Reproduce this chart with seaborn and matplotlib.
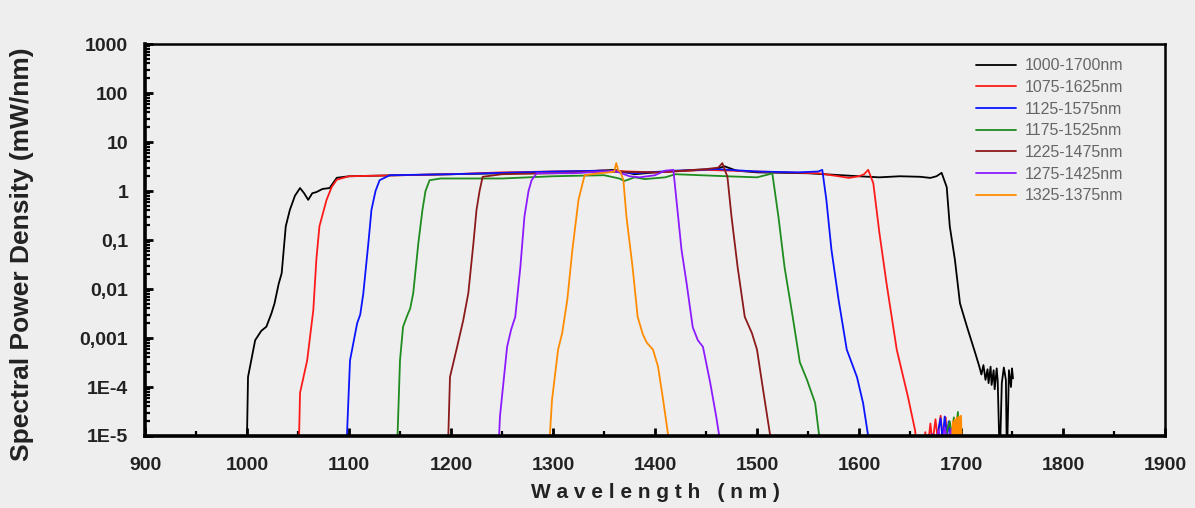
import pandas as pd
import seaborn as sns
import matplotlib.pyplot as plt
from matplotlib.ticker import MultipleLocator, LogLocator, NullFormatter

# spectra (wavelength nm, spectral power density mW/nm)
wl_1000_1700 = [995, 1000, 1001, 1008, 1014, 1019, 1024, 1027, 1031, 1034, 1038, 1042, 1047, 1052, 1056, 1060,
                1064, 1068, 1074, 1081, 1088, 1100, 1150, 1200, 1250, 1300, 1330, 1360, 1380, 1400, 1430, 1460,
                1468, 1480, 1500, 1550, 1600, 1620, 1640, 1660, 1670, 1676, 1681, 1686, 1689, 1694, 1699, 1706,
                1714, 1718, 1720, 1722, 1724, 1726, 1727, 1729, 1730, 1732, 1733, 1735, 1736, 1738, 1740, 1742,
                1744, 1745, 1747, 1749, 1750, 1751]
pd_1000_1700 = [1e-6, 1e-5, 1.6e-4, 9e-4, 1.4e-3, 1.7e-3, 3.2e-3, 5.1e-3, 0.0126, 0.021, 0.19, 0.41, 0.8, 1.15, 0.9, 0.66,
                0.9, 0.95, 1.1, 1.15, 1.86, 2.0, 2.1, 2.2, 2.3, 2.4, 2.5, 2.7, 2.2, 2.4, 2.6, 2.8,
                3.2, 2.6, 2.4, 2.3, 2.0, 1.9, 2.0, 1.95, 1.85, 2.0, 2.35, 1.2, 0.19, 0.04, 5.1e-3, 1.66e-3,
                4.9e-4, 2.6e-4, 1.8e-4, 2.8e-4, 1.4e-4, 2.3e-4, 1.2e-4, 2.6e-4, 1.1e-4, 2.2e-4, 9e-5, 2.4e-4,
                1.3e-4, 3e-6, 1.2e-4, 2.5e-4,
                1.4e-4, 3e-6, 2.2e-4, 1e-4, 2.4e-4, 1.5e-4]

wl_1075_1625 = [1050, 1052, 1059, 1065, 1068, 1071, 1078, 1083, 1088, 1100, 1150, 1200, 1250, 1300, 1350, 1400, 1450,
                1500, 1560, 1580, 1590, 1600, 1605, 1609, 1614, 1620, 1627, 1637, 1648, 1655, 1658,
                1662, 1665, 1667, 1670, 1672, 1675, 1677, 1680, 1682, 1685, 1687]
pd_1075_1625 = [1e-6, 7.6e-5, 3.5e-4, 3.7e-3, 0.04, 0.19, 0.66, 1.2, 1.7, 2.0, 2.1, 2.2, 2.4, 2.5, 2.6, 2.4, 2.7,
                2.5, 2.3, 2.0, 1.85, 2.0, 2.2, 2.7, 1.45, 0.14, 0.013, 5.8e-4, 6.3e-5, 1.3e-5, 3e-6,
                3e-6, 1.2e-5, 5e-6, 1.8e-5, 7e-6, 2.2e-5, 9e-6, 2.6e-5, 1e-5, 2.4e-5, 4e-6]

wl_1125_1575 = [1096, 1101, 1108, 1111, 1114, 1119, 1122, 1126, 1130, 1140, 1200, 1300, 1350, 1380, 1420, 1460,
                1500, 1540, 1560, 1564, 1568, 1573, 1580, 1588, 1598, 1604, 1609, 1611,
                1676, 1678, 1680, 1682, 1684, 1686, 1688, 1690]
pd_1125_1575 = [1e-6, 3.5e-4, 2e-3, 3e-3, 8e-3, 0.087, 0.41, 1.0, 1.66, 2.1, 2.2, 2.5, 2.6, 2.3, 2.6, 2.8,
                2.5, 2.4, 2.5, 2.7, 0.66, 0.063, 6e-3, 5.8e-4, 1.6e-4, 4.7e-5, 1e-5, 2e-6,
                3e-6, 1.4e-5, 2.3e-5, 8e-6, 2.5e-5, 1e-5, 2e-5, 5e-6]

wl_1175_1525 = [1146, 1150, 1153, 1156, 1158, 1160, 1163, 1168, 1172, 1175, 1179, 1190, 1250, 1300, 1350, 1365,
                1370, 1380, 1390, 1410, 1420, 1470, 1500, 1512, 1515, 1521, 1527, 1535, 1542, 1549, 1557, 1561, 1563,
                1684, 1686, 1689, 1691, 1693, 1695, 1697, 1699]
pd_1175_1525 = [1e-6, 3.5e-4, 1.7e-3, 2.5e-3, 3.2e-3, 4e-3, 8.3e-3, 0.087, 0.41, 1.0, 1.66, 1.8, 1.8, 2.0, 2.1, 1.8,
                1.6, 1.9, 1.75, 1.9, 2.2, 2.0, 1.9, 2.2, 2.3, 0.3, 0.028, 2.7e-3, 3.2e-4, 1.4e-4, 4.7e-5, 1e-5, 2e-6,
                4e-6, 1.2e-5, 2e-5, 1e-5, 2.4e-5, 1.3e-5, 3.1e-5, 5e-6]

wl_1225_1475 = [1196, 1199, 1206, 1212, 1217, 1222, 1225, 1228, 1231, 1250, 1300, 1350, 1400, 1450, 1462, 1466,
                1471, 1475, 1481, 1488, 1495, 1500, 1506, 1513, 1515,
                1688, 1690, 1693, 1696, 1698]
pd_1225_1475 = [1e-6, 1.6e-4, 6.6e-4, 2.3e-3, 8.3e-3, 0.087, 0.41, 1.0, 1.95, 2.2, 2.3, 2.5, 2.4, 2.8, 3.0, 3.7,
                1.95, 0.3, 0.028, 2.7e-3, 1.26e-3, 5.8e-4, 8.7e-5, 1e-5, 2e-6,
                4e-6, 1.3e-5, 8e-6, 1.8e-5, 5e-6]

wl_1275_1425 = [1245, 1248, 1255, 1259, 1263, 1268, 1272, 1276, 1279, 1284, 1320, 1350, 1360, 1375, 1385, 1400,
                1410, 1418, 1421, 1426, 1431, 1437, 1442, 1447, 1454, 1460, 1463, 1465,
                1670, 1672, 1675, 1678, 1681, 1684, 1687, 1690, 1692]
pd_1275_1425 = [1e-6, 2.5e-5, 6.6e-4, 1.5e-3, 2.7e-3, 0.028, 0.3, 1.0, 1.66, 2.3, 2.3, 2.5, 2.6, 2.0, 1.9, 2.1,
                2.6, 2.7, 0.66, 0.063, 0.013, 1.66e-3, 9e-4, 6.6e-4, 1.26e-4, 2.5e-5, 1e-5, 2e-6,
                3e-6, 1.1e-5, 6e-6, 1.3e-5, 6e-6, 1.5e-5, 7e-6, 1.4e-5, 4e-6]

wl_1325_1375 = [1294, 1299, 1305, 1309, 1314, 1319, 1325, 1331, 1345, 1355, 1360, 1362, 1364, 1366, 1369, 1372,
                1378, 1383, 1388, 1392, 1398, 1403, 1408, 1413, 1415,
                1690, 1692, 1693, 1694, 1695, 1696, 1697, 1698, 1699, 1700, 1701]
pd_1325_1375 = [1e-6, 5.4e-5, 5.8e-4, 1.26e-3, 6e-3, 0.063, 0.66, 2.1, 2.3, 2.4, 2.5, 3.7, 2.6, 2.5, 1.66, 0.3,
                0.028, 2.7e-3, 1.2e-3, 8e-4, 5.8e-4, 2.6e-4, 5.4e-5, 1e-5, 2e-6,
                3e-6, 2e-5, 6e-6, 2.2e-5, 6e-6, 2.4e-5, 6e-6, 2.5e-5, 6e-6, 2.6e-5, 4e-6]

bands = ['1000-1700nm', '1075-1625nm', '1125-1575nm', '1175-1525nm', '1225-1475nm', '1275-1425nm', '1325-1375nm']
colors = ['#000000', '#ff1a1a', '#0a14ff', '#1e8c1e', '#8b1a1a', '#8c1aff', '#ff8c00']
wls = [wl_1000_1700, wl_1075_1625, wl_1125_1575, wl_1175_1525, wl_1225_1475, wl_1275_1425, wl_1325_1375]
pds = [pd_1000_1700, pd_1075_1625, pd_1125_1575, pd_1175_1525, pd_1225_1475, pd_1275_1425, pd_1325_1375]

frames = []
for b, w, p in zip(bands, wls, pds):
    frames.append(pd.DataFrame({'wavelength': w, 'spd': p, 'band': b}))
df = pd.concat(frames, ignore_index=True)

bg = '#eeeeee'
sns.set_style('ticks')
plt.rcParams['font.family'] = ['Liberation Sans', 'DejaVu Sans']

fig = plt.figure(figsize=(11.95, 5.08), dpi=100, facecolor=bg)
ax = fig.add_axes([145/1195, 1 - 436/508, 1020/1195, 392/508])
ax.set_facecolor(bg)

sns.lineplot(data=df, x='wavelength', y='spd', hue='band', hue_order=bands, palette=colors,
             sort=False, estimator=None, linewidth=1.3, ax=ax)

ax.set_yscale('log')
ax.set_xlim(900, 1900)
ax.set_ylim(1e-5, 1000)

ax.xaxis.set_major_locator(MultipleLocator(100))
ax.xaxis.set_minor_locator(MultipleLocator(50))
yt = [1e-5, 1e-4, 1e-3, 1e-2, 1e-1, 1, 10, 100, 1000]
ax.set_yticks(yt, ['1E-5', '1E-4', '0,001', '0,01', '0,1', '1', '10', '100', '1000'])
ax.yaxis.set_minor_locator(LogLocator(base=10, subs=range(2, 10), numticks=20))
ax.yaxis.set_minor_formatter(NullFormatter())

ax.tick_params(which='both', direction='in', top=False, right=False, colors='black',
               labelcolor='#222222', labelsize=14)
ax.tick_params(which='major', length=6, width=2)
ax.tick_params(which='minor', length=3.5, width=1.6)
for lab in ax.get_xticklabels() + ax.get_yticklabels():
    lab.set_fontweight('bold')
ax.tick_params(axis='x', pad=15)
ax.tick_params(axis='y', pad=12)

for side in ['left', 'bottom']:
    ax.spines[side].set_linewidth(2.6)
for side in ['top', 'right']:
    ax.spines[side].set_linewidth(1.8)
for s in ax.spines.values():
    s.set_color('black')

ax.set_xlabel('W a v e l e n g t h   ( n m )', fontsize=15, fontweight='bold', color='#222222')
ax.xaxis.set_label_coords(0.5, -(493 - 436) / 392, transform=ax.transAxes)
ax.xaxis.label.set_va('center')
ax.set_ylabel('Spectral Power Density (mW/nm)', fontsize=19, fontweight='bold', color='#222222')
ax.yaxis.set_label_coords((22 - 145) / 1020, (436 - 254) / 392, transform=ax.transAxes)
ax.yaxis.label.set_va('center')

leg = ax.legend(loc='upper right', bbox_to_anchor=(0.965, 0.98), frameon=False, fontsize=11.5,
                handlelength=2.5, handletextpad=0.5, labelspacing=0.42, borderaxespad=0)
for t in leg.get_texts():
    t.set_color('#666666')
for h in leg.get_lines():
    h.set_linewidth(1.3)

plt.savefig('out.png', dpi=100, facecolor=bg)
